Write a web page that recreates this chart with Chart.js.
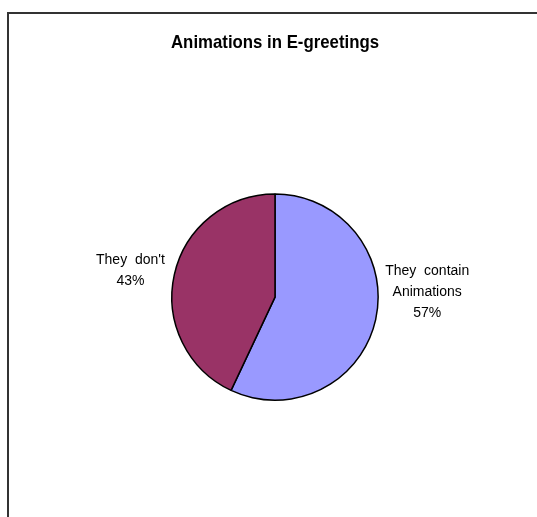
<!DOCTYPE html>
<html>
<head>
<meta charset="utf-8">
<script src="https://cdn.jsdelivr.net/npm/chart.js@4/dist/chart.umd.min.js"></script>
<style>
  body { margin: 0; background: #fff; overflow: hidden; }
  #frame { position: absolute; left: 7px; top: 12px; width: 600px; height: 600px; border: 2px solid #333; }
  #chart1 { position: absolute; left: 0; top: 0; }
</style>
</head>
<body>
<div id="frame"></div>
<canvas id="chart1" width="537" height="517"></canvas>
<script>
// chart data
var chart_title = "Animations in E-greetings";
var labels = [["They  contain", "Animations"], ["They  don't"]];
var values = [57, 43];
var colors = ["#9999FF", "#993366"];

// draws the excel-like labels outside each slice
var outside_labels = {
  id: "outsideLabels",
  afterDatasetsDraw: function(chart) {
    var ctx = chart.ctx;
    var meta = chart.getDatasetMeta(0);
    var total = values.reduce(function(a, b) { return a + b; }, 0);
    ctx.save();
    ctx.font = "14px 'Liberation Sans', Arial, sans-serif";
    ctx.fillStyle = "#000";
    ctx.textAlign = "center";
    ctx.textBaseline = "middle";
    meta.data.forEach(function(arc, i) {
      var mid = (arc.startAngle + arc.endAngle) / 2;
      var r = arc.outerRadius;
      var lines = labels[i].concat([Math.round(values[i] / total * 100) + "%"]);
      var widest = Math.max.apply(null, lines.map(function(l) { return ctx.measureText(l).width; }));
      var side = Math.cos(mid) >= 0 ? 1 : -1;
      var x = arc.x + side * (r + 7 + widest / 2);
      var lh = 21;
      var y = arc.y - 16 + Math.sin(mid) * 50 - (lines.length - 1) * lh / 2;
      lines.forEach(function(l, k) { ctx.fillText(l, x, y + k * lh); });
    });
    ctx.restore();
  }
};

new Chart(document.getElementById("chart1"), {
  type: "pie",
  data: {
    labels: labels,
    datasets: [{
      data: values,
      backgroundColor: colors,
      borderColor: "#000",
      borderWidth: 1.5
    }]
  },
  options: {
    responsive: false,
    animation: false,
    layout: {
      padding: { left: 171, right: 158, top: 0, bottom: 116 }
    },
    plugins: {
      legend: { display: false },
      tooltip: { enabled: false },
      title: {
        display: true,
        text: chart_title,
        color: "#000",
        font: { family: "'Liberation Sans', Arial, sans-serif", size: 18.5, weight: "bold" },
        padding: { top: 32, bottom: 139 }
      }
    }
  },
  plugins: [outside_labels]
});
</script>
</body>
</html>
